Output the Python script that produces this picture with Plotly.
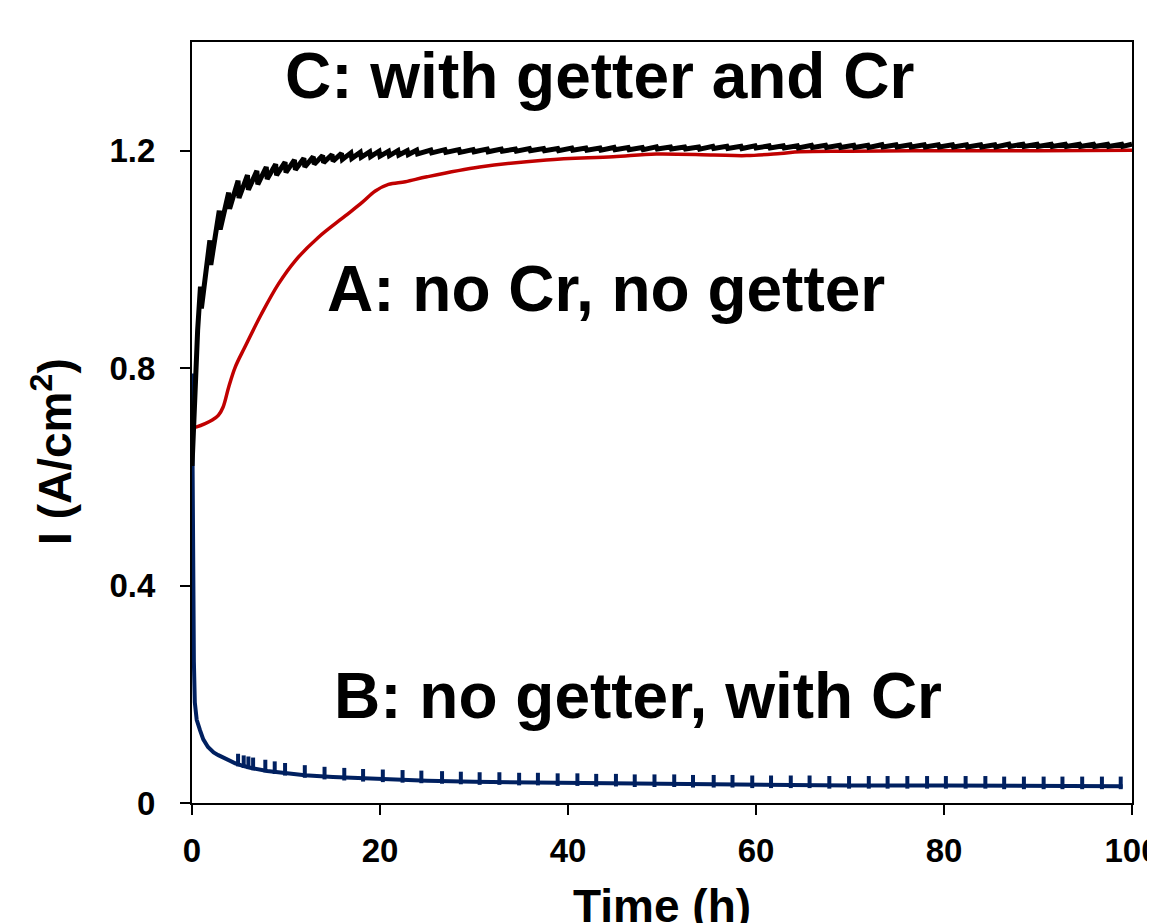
import plotly.graph_objects as go

# ---- Data ----
# A: no Cr, no getter (red)
a_time = [0.0, 0.5, 1.4, 2.2, 2.8, 3.3, 3.9, 4.6, 5.6, 7.4, 9.2, 11.0, 13.4, 16.3,
          18.1, 19.5, 20.9, 22.7, 25.0, 30.6, 37.7, 44.8, 49.4, 55.5, 59.0, 62.6,
          64.7, 70.0, 80.0, 90.0, 100.0]
a_current = [0.690, 0.692, 0.698, 0.705, 0.713, 0.728, 0.765, 0.802, 0.838, 0.900,
             0.955, 0.998, 1.040, 1.080, 1.105, 1.126, 1.138, 1.143, 1.152, 1.170,
             1.183, 1.189, 1.194, 1.192, 1.191, 1.195, 1.198, 1.199, 1.200, 1.200, 1.201]

# B: no getter, with Cr (navy)
b_time = [0.0, 0.05, 0.12, 0.2, 0.3, 0.5, 0.85, 1.2, 1.7, 2.3, 2.8, 3.7, 4.6, 5.5,
          6.4, 8.0, 9.9, 12.0, 15.0, 20.0, 25.0, 30.0, 40.0, 50.0, 60.0, 70.0, 80.0,
          90.0, 99.0]
b_current = [0.79, 0.60, 0.38, 0.26, 0.185, 0.153, 0.134, 0.117, 0.103, 0.093, 0.088,
             0.080, 0.073, 0.068, 0.064, 0.059, 0.055, 0.051, 0.048, 0.044, 0.041,
             0.039, 0.037, 0.035, 0.033, 0.032, 0.032, 0.031, 0.031]
# small upward spikes on curve B
b_spike_time = [4.9, 5.5, 6.0, 6.5, 7.8, 8.8, 9.9, 12.0, 14.1, 16.2, 18.2, 20.3, 22.4,
                24.4, 26.6, 28.6, 30.6, 32.7, 34.8, 36.8, 38.9, 41.0, 43.0, 45.1, 47.1,
                49.2, 51.3, 53.3, 55.5, 57.5, 59.6, 61.6, 63.7, 65.7, 67.8, 69.9, 72.0,
                74.0, 76.1, 78.2, 80.2, 82.3, 84.4, 86.4, 88.5, 90.6, 92.6, 94.7, 96.8,
                98.8]
b_spike_current = [0.079, 0.076, 0.074, 0.072, 0.068, 0.065, 0.062, 0.058, 0.055, 0.053,
                   0.051, 0.050, 0.049, 0.048, 0.047, 0.046, 0.045, 0.045, 0.044, 0.044,
                   0.043, 0.043, 0.042, 0.042, 0.041, 0.041, 0.041, 0.040, 0.040, 0.040,
                   0.039, 0.039, 0.039, 0.039, 0.038, 0.038, 0.038, 0.038, 0.038, 0.038,
                   0.038, 0.038, 0.038, 0.037, 0.037, 0.037, 0.037, 0.037, 0.037, 0.037]

# C: with getter and Cr (black, noisy)
c_time = [0.0, 0.3, 0.6, 0.9, 1.0, 1.9, 2.0, 2.9, 3.0, 3.9, 4.0, 4.9, 5.0, 5.9, 6.0,
          6.9, 7.0, 7.9, 8.0, 8.9, 9.0, 9.9, 10.0, 10.9, 11.0, 11.9, 12.0, 12.9, 13.0,
          13.9, 14.0, 14.9, 15.0, 15.9, 16.0, 16.9, 17.0, 17.9, 18.0, 18.9, 19.0,
          19.9, 20.0, 20.9, 21.0, 21.9, 22.0, 22.9, 23.0, 23.9, 24.0, 25.4, 25.5,
          26.9, 27.0, 28.4, 28.5, 29.9, 30.0, 31.4, 31.5, 32.9, 33.0, 34.4, 34.5,
          35.9, 36.0, 37.4, 37.5, 38.9, 39.0, 40.4, 40.5, 41.9, 42.0, 43.4, 43.5,
          44.9, 45.0, 46.4, 46.5, 47.9, 48.0, 49.4, 49.5, 50.9, 51.0, 52.4, 52.5,
          53.9, 54.0, 55.4, 55.5, 56.9, 57.0, 58.4, 58.5, 59.9, 60.0, 61.4, 61.5,
          62.9, 63.0, 64.4, 64.5, 65.9, 66.0, 67.4, 67.5, 68.9, 69.0, 70.4, 70.5,
          71.9, 72.0, 73.4, 73.5, 74.9, 75.0, 76.4, 76.5, 77.9, 78.0, 79.4, 79.5,
          80.9, 81.0, 82.4, 82.5, 83.9, 84.0, 85.4, 85.5, 86.9, 87.0, 88.4, 88.5,
          89.9, 90.0, 91.4, 91.5, 92.9, 93.0, 94.4, 94.5, 95.9, 96.0, 97.4, 97.5,
          98.9, 99.0, 100.0]
c_current = [0.62, 0.78, 0.87, 0.95, 0.91, 1.035, 0.99, 1.090, 1.055, 1.123, 1.093,
             1.145, 1.113, 1.155, 1.128, 1.163, 1.138, 1.170, 1.148, 1.175, 1.155,
             1.179, 1.160, 1.183, 1.165, 1.186, 1.170, 1.189, 1.175, 1.191, 1.178,
             1.193, 1.181, 1.195, 1.184, 1.196, 1.186, 1.197, 1.188, 1.198, 1.189,
             1.199, 1.190, 1.199, 1.191, 1.200, 1.192, 1.200, 1.193, 1.201, 1.194,
             1.201, 1.196, 1.202, 1.197, 1.202, 1.197, 1.202, 1.198, 1.203, 1.198,
             1.203, 1.199, 1.203, 1.199, 1.204, 1.200, 1.204, 1.200, 1.204, 1.200,
             1.205, 1.201, 1.205, 1.201, 1.205, 1.201, 1.206, 1.202, 1.206, 1.202,
             1.206, 1.202, 1.207, 1.203, 1.207, 1.203, 1.207, 1.203, 1.207, 1.203,
             1.208, 1.204, 1.208, 1.204, 1.208, 1.204, 1.209, 1.205, 1.209, 1.205,
             1.209, 1.205, 1.209, 1.205, 1.210, 1.206, 1.210, 1.206, 1.210, 1.206,
             1.210, 1.206, 1.210, 1.206, 1.211, 1.207, 1.211, 1.207, 1.211, 1.207,
             1.211, 1.207, 1.211, 1.207, 1.211, 1.207, 1.211, 1.207, 1.211, 1.207,
             1.211, 1.207, 1.212, 1.208, 1.212, 1.208, 1.212, 1.208, 1.212, 1.208,
             1.212, 1.208, 1.212, 1.208, 1.212, 1.208, 1.212, 1.208, 1.212, 1.208,
             1.212, 1.208, 1.212]

x_ticks = [0, 20, 40, 60, 80, 100]
y_ticks = [0, 0.4, 0.8, 1.2]
y_tick_labels = ["0", "0.4", "0.8", "1.2"]

labels = ["C: with getter and Cr", "A: no Cr, no getter", "B: no getter, with Cr"]
label_x = [43.4, 44.0, 47.4]
label_y = [1.338, 0.945, 0.196]

FONT = "Liberation Sans, Arial, sans-serif"

fig = go.Figure()
fig.add_trace(go.Scatter(x=b_time, y=b_current, mode="lines",
                         line=dict(color="#002060", width=4), showlegend=False))
fig.add_trace(go.Scatter(x=b_spike_time, y=b_spike_current, mode="markers",
                         marker=dict(symbol="line-ns", size=9,
                                     line=dict(color="#002060", width=4)),
                         showlegend=False))
fig.add_trace(go.Scatter(x=a_time, y=a_current, mode="lines",
                         line=dict(color="#C00000", width=3.5, shape="spline"),
                         showlegend=False))
fig.add_trace(go.Scatter(x=c_time, y=c_current, mode="lines",
                         line=dict(color="#000000", width=5), showlegend=False))

for t, xx, yy in zip(labels, label_x, label_y):
    fig.add_annotation(x=xx, y=yy, xref="x", yref="y", text=t, showarrow=False,
                       xanchor="center", yanchor="middle",
                       font=dict(family=FONT, size=64, color="black", weight="bold"))

fig.add_annotation(x=-0.149, y=0.4626, xref="paper", yref="paper",
                   text="I (A/cm<sup>2</sup>)", textangle=-90, showarrow=False,
                   xanchor="center", yanchor="middle",
                   font=dict(family=FONT, size=46, color="black", weight="bold"))
fig.add_annotation(x=0.5, y=-0.135, xref="paper", yref="paper",
                   text="Time (h)", showarrow=False,
                   xanchor="center", yanchor="middle",
                   font=dict(family=FONT, size=46, color="black", weight="bold"))

axis_common = dict(showline=True, linecolor="black", linewidth=2, mirror=True,
                   ticks="outside", ticklen=10, tickwidth=2, tickcolor="black",
                   showgrid=False, zeroline=False, ticklabeloverflow="allow",
                   automargin=False,
                   tickfont=dict(family=FONT, size=33, color="black", weight="bold"))

fig.update_xaxes(range=[0, 100], tickvals=x_ticks, ticklabelstandoff=7, **axis_common)
fig.update_yaxes(range=[0, 1.4], tickvals=y_ticks, ticktext=y_tick_labels,
                 ticklabelstandoff=18, **axis_common)

fig.update_layout(width=1147, height=915, plot_bgcolor="white", paper_bgcolor="white",
                  margin=dict(l=184, r=23, t=34, b=120), showlegend=False)

fig.write_html("out.html")
